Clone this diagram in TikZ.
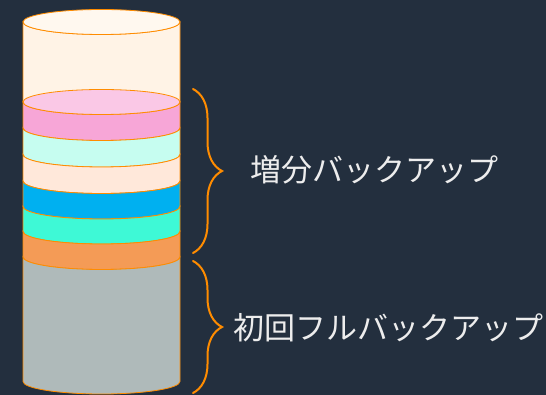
\documentclass[tikz,border=0pt]{standalone}
\usepackage{fontspec}
\newfontfamily\jpfont{Noto Sans CJK JP}
\usetikzlibrary{decorations.pathreplacing}
\definecolor{bgnavy}{HTML}{232F3E}
\definecolor{rimorange}{HTML}{FF8C00}
\definecolor{creamtop}{HTML}{FFF8EF}
\definecolor{cream}{HTML}{FFF3E6}
\definecolor{pinktop}{HTML}{FAC8E6}
\definecolor{pink}{HTML}{F7A6D7}
\definecolor{mint}{HTML}{C6FDF0}
\definecolor{peach}{HTML}{FFE8DA}
\definecolor{skyblue}{HTML}{00B0F0}
\definecolor{teal}{HTML}{3EF9D6}
\definecolor{apricot}{HTML}{F49B56}
\definecolor{slate}{HTML}{AFBABA}
\tikzset{
    layer/.style = {draw=rimorange, line width=0.8pt, fill=#1},
    lid/.style = {draw=rimorange, line width=0.8pt, fill=#1},
    bracket/.style = {draw=rimorange, line width=2pt, line cap=round,
        decorate, decoration={brace, amplitude=29pt, aspect=0.5}},
    label/.style = {anchor=west, inner sep=0pt, text=white!93!black,
        font=\jpfont\fontsize{31}{37}\selectfont},
}
% one band of the cylinder: top rim at #1, bottom rim at #2
\newcommand{\band}[3]{%
  \path[layer=#3] (23,#1) -- (23,#2)
      arc[start angle=180, end angle=360, x radius=78.5, y radius=12.5]
      -- (180,#1)
      arc[start angle=0, end angle=-180, x radius=78.5, y radius=12.5]
      -- cycle;}
\begin{document}
\begin{tikzpicture}[x=1pt, y=1pt]
\fill[bgnavy] (0,0) rectangle (546,395);
\useasboundingbox (0,0) rectangle (546,395);
%
% cylinder, top down
\band{373}{293}{cream}
\path[lid=creamtop] (101.5,373) ellipse[x radius=78.5, y radius=12.5];
\band{293}{267}{pink}
\path[lid=pinktop] (101.5,293) ellipse[x radius=78.5, y radius=12.5];
\band{267}{240.5}{mint}
\band{240.5}{214}{peach}
\band{214}{188.5}{skyblue}
\band{188.5}{163.5}{teal}
\band{163.5}{138}{apricot}
\band{138}{13.5}{slate}
%
% braces and labels
\coordinate (inc top) at (193,306);
\coordinate (inc bot) at (193,142);
\coordinate (full top) at (193,134);
\coordinate (full bot) at (193,2);
\draw[bracket] (inc top) -- (inc bot);
\draw[bracket] (full top) -- (full bot);
\node[label] (inc) at (250,225) {増分バックアップ};
\node[label] (full) at (233,67) {初回フルバックアップ};
\end{tikzpicture}
\end{document}
